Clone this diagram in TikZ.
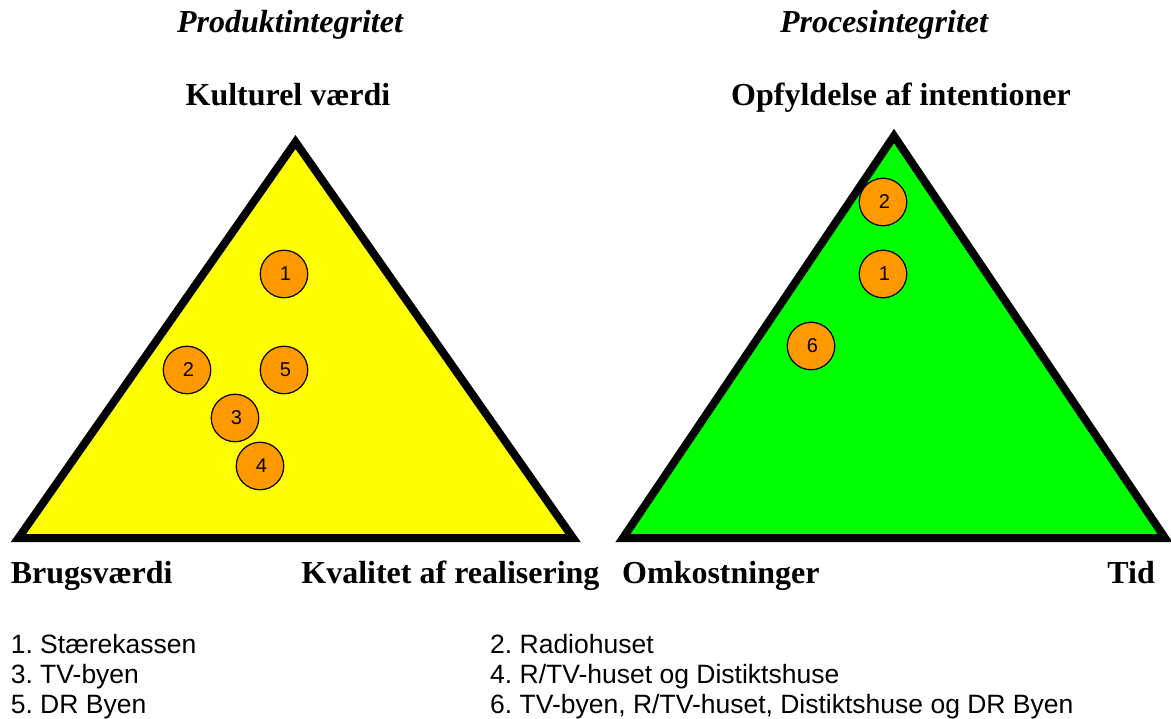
\documentclass[tikz,border=0pt]{standalone}
\usepackage{fontspec}
\setmainfont{Liberation Serif}
\setsansfont{Liberation Sans}

\definecolor{spotorange}{rgb}{1,0.6,0}
\definecolor{productfill}{rgb}{1,1,0}
\definecolor{processfill}{rgb}{0,1,0}

\begin{document}
\frenchspacing
\begin{tikzpicture}[x=1pt, y=-1pt,
	spot/.style={circle, draw, line width=1.2pt, fill=spotorange, minimum size=47.5pt, inner sep=0pt, font=\sffamily\fontsize{20}{20}\selectfont},
	heading/.style={anchor=base, inner sep=0pt, font=\fontsize{32}{38}\selectfont\bfseries\itshape},
	axis/.style={inner sep=0pt, font=\fontsize{32}{38}\selectfont\bfseries},
	key/.style={anchor=base west, inner sep=0pt, font=\sffamily\fontsize{26.5}{30}\selectfont}]
	\useasboundingbox (0, 0) rectangle (1171, 719);

	% product triangle
	\coordinate (pa) at (295.5, 142);
	\coordinate (pb) at (18.5, 538);
	\coordinate (pc) at (573, 538);
	\draw[line width=8pt, fill=productfill] (pa) -- (pb) -- (pc) -- cycle;

	% process triangle
	\coordinate (qa) at (894, 136);
	\coordinate (qb) at (623, 538);
	\coordinate (qc) at (1165, 538);
	\draw[line width=8pt, fill=processfill] (qa) -- (qb) -- (qc) -- cycle;

	\node (p1) at (284, 274) [spot] {\kern3pt 1};
	\node (p2) at (187, 370) [spot] {\kern3pt 2};
	\node (p5) at (284, 370) [spot] {\kern3pt 5};
	\node (p3) at (235, 418) [spot] {\kern3pt 3};
	\node (p4) at (260, 466) [spot] {\kern3pt 4};

	\node (q2) at (883, 202) [spot] {\kern3pt 2};
	\node (q1) at (883, 274) [spot] {\kern3pt 1};
	\node (q6) at (811, 346) [spot] {\kern3pt 6};

	\node (prod) at (290, 33) [heading] {Produktintegritet};
	\node (proc) at (884, 33) [heading] {Procesintegritet};
	\node (kult) at (288, 106) [axis, anchor=base] {Kulturel værdi};
	\node (opf) at (901, 106) [axis, anchor=base] {Opfyldelse af intentioner};
	\node (brug) at (10.6, 583) [axis, anchor=base west] {Brugsværdi};
	\node (kval) at (599.6, 583) [axis, anchor=base east] {Kvalitet af realisering};
	\node (omk) at (622, 583) [axis, anchor=base west] {Omkostninger};
	\node (tid) at (1155, 583) [axis, anchor=base east] {Tid};

	\node (k1) at (10.6, 653) [key] {1. Stærekassen};
	\node (k3) at (10.6, 683) [key] {3. TV-byen};
	\node (k5) at (10.6, 713) [key] {5. DR Byen};
	\node (k2) at (490, 653) [key] {2. Radiohuset};
	\node (k4) at (490, 683) [key] {4. R/TV-huset og Distiktshuse};
	\node (k6) at (490, 713) [key] {6. TV-byen, R/TV-huset, Distiktshuse og DR Byen};
\end{tikzpicture}
\end{document}
